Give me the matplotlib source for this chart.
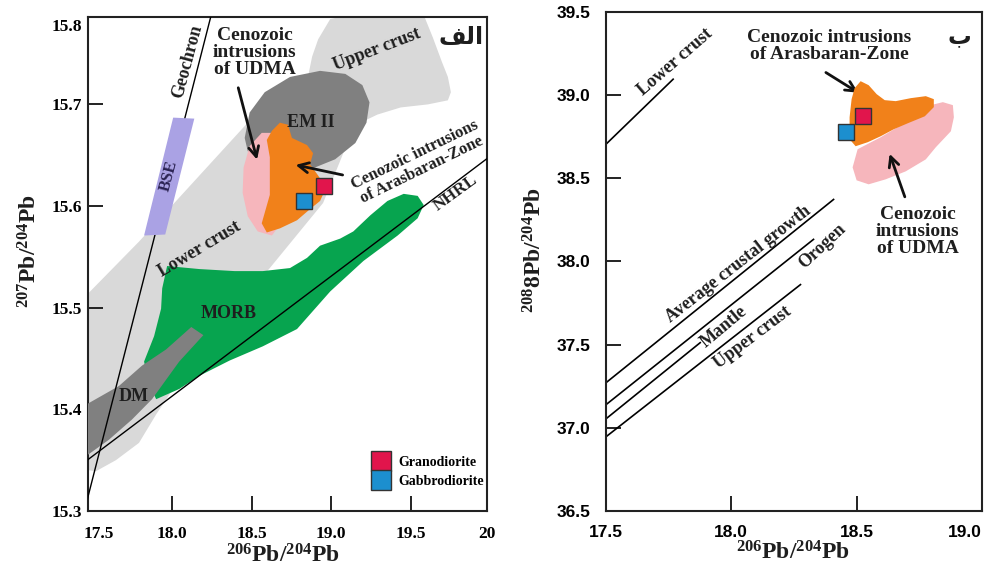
import matplotlib
matplotlib.use("Agg")
import matplotlib.pyplot as plt
from matplotlib.lines import Line2D

plt.rcParams['font.family'] = ['Liberation Serif', 'DejaVu Sans']
plt.rcParams['font.weight'] = 'bold'
plt.rcParams['mathtext.fontset'] = 'custom'
plt.rcParams['mathtext.rm'] = 'Liberation Serif:bold'
plt.rcParams['mathtext.default'] = 'rm'

# ---- panel (a): 206Pb/204Pb vs 207Pb/204Pb fields ----
upper_crust_x = [18.854, 18.880, 18.918, 18.994, 19.120, 19.437, 19.582, 19.639, 19.696,
                 19.734, 19.753, 19.734, 19.608, 19.437, 19.291, 19.184, 18.994]
upper_crust_y = [15.727, 15.747, 15.764, 15.784, 15.788, 15.789, 15.788, 15.766, 15.742,
                 15.727, 15.712, 15.704, 15.700, 15.697, 15.690, 15.682, 15.697]

lower_crust_x = [17.44, 17.791, 18.171, 18.551, 18.804, 19.089, 18.949, 18.614, 18.171,
                 17.899, 17.791, 17.646, 17.519, 17.44]
lower_crust_y = [15.509, 15.565, 15.630, 15.695, 15.712, 15.657, 15.603, 15.539, 15.459,
                 15.395, 15.367, 15.350, 15.339, 15.341]

em2_x = [18.456, 18.487, 18.582, 18.741, 18.930, 19.089, 19.196, 19.241, 19.222, 19.152,
         19.025, 18.867, 18.709, 18.563, 18.475]
em2_y = [15.667, 15.692, 15.712, 15.727, 15.733, 15.730, 15.719, 15.702, 15.682, 15.662,
         15.646, 15.636, 15.635, 15.643, 15.654]

morb_x = [17.968, 18.171, 18.392, 18.570, 18.741, 18.848, 18.930, 19.057, 19.139, 19.247,
          19.354, 19.456, 19.544, 19.582, 19.544, 19.418, 19.203, 18.994, 18.785, 18.570,
          18.361, 18.171, 18.044, 17.899, 17.854, 17.823, 17.886, 17.930, 17.937]
morb_y = [15.541, 15.538, 15.536, 15.536, 15.539, 15.549, 15.561, 15.568, 15.575, 15.591,
          15.605, 15.612, 15.610, 15.601, 15.588, 15.571, 15.546, 15.516, 15.479, 15.462,
          15.448, 15.433, 15.420, 15.410, 15.425, 15.447, 15.472, 15.499, 15.519]

dm_x = [17.44, 17.665, 17.810, 17.962, 18.120, 18.196, 18.044, 17.873, 17.747, 17.601, 17.44]
dm_y = [15.403, 15.423, 15.443, 15.459, 15.481, 15.473, 15.447, 15.410, 15.390, 15.370, 15.352]

udma_a_x = [18.563, 18.646, 18.709, 18.709, 18.627, 18.538, 18.475, 18.443, 18.449, 18.487]
udma_a_y = [15.672, 15.672, 15.648, 15.588, 15.571, 15.575, 15.590, 15.613, 15.638, 15.659]

arasbaran_a_x = [18.627, 18.677, 18.728, 18.753, 18.848, 18.886, 18.867, 18.918, 18.968,
                 18.930, 18.867, 18.785, 18.677, 18.595, 18.563, 18.614, 18.614, 18.595]
arasbaran_a_y = [15.674, 15.682, 15.680, 15.667, 15.660, 15.652, 15.641, 15.630, 15.618,
                 15.605, 15.597, 15.586, 15.578, 15.574, 15.583, 15.611, 15.648, 15.665]

bse_x = [18.006, 18.139, 17.956, 17.823]
bse_y = [15.687, 15.686, 15.572, 15.571]

geochron_x = [17.462, 18.247]
geochron_y = [15.309, 15.789]
nhrl_x = [17.44, 20.0]
nhrl_y = [15.347, 15.649]

granodiorite_a = (18.956, 15.620)
gabbrodiorite_a = (18.829, 15.605)

# ---- panel (b): 206Pb/204Pb vs 208Pb/204Pb ----
lc_b_x, lc_b_y = [17.5, 17.768], [38.705, 39.096]
acg_b_x, acg_b_y = [17.5, 18.408], [37.271, 38.373]
orogen_b_x, orogen_b_y = [17.5, 18.328], [37.139, 38.133]
mantle_b_x, mantle_b_y = [17.5, 17.876], [37.054, 37.512]
uc_b_x, uc_b_y = [17.5, 18.276], [36.946, 37.861]

arasbaran_b_x = [18.516, 18.548, 18.580, 18.612, 18.656, 18.716, 18.776, 18.808, 18.808,
                 18.772, 18.704, 18.648, 18.596, 18.544, 18.496, 18.472, 18.472, 18.480, 18.492]
arasbaran_b_y = [39.084, 39.060, 39.006, 38.970, 38.964, 38.982, 38.994, 38.976, 38.928,
                 38.873, 38.831, 38.795, 38.753, 38.717, 38.693, 38.735, 38.867, 38.976, 39.042]

udma_b_x = [18.504, 18.596, 18.716, 18.796, 18.844, 18.884, 18.888, 18.876, 18.816, 18.776,
            18.696, 18.616, 18.548, 18.500, 18.484]
udma_b_y = [38.675, 38.747, 38.855, 38.940, 38.958, 38.940, 38.867, 38.783, 38.687, 38.614,
            38.542, 38.494, 38.464, 38.488, 38.566]

granodiorite_b = (18.524, 38.873)
gabbrodiorite_b = (18.456, 38.777)

LGRAY = '#d9d9d9'
DGRAY = '#808080'
GREEN = '#07a44f'
PINK = '#f6b6bc'
ORANGE = '#f1811a'
PURPLE = '#aaa2e4'
RED = '#e1154c'
BLUE = '#1c8fcf'
TXT = '#1e1e1e'

fig = plt.figure(figsize=(9.85, 5.66), dpi=100)
ax1 = fig.add_axes([0.0893, 0.0972, 0.4051, 0.8728])
ax2 = fig.add_axes([0.6152, 0.0972, 0.3817, 0.8816])

# fields
ax1.fill(lower_crust_x, lower_crust_y, color=LGRAY, lw=0, zorder=1)
ax1.fill(upper_crust_x, upper_crust_y, color=LGRAY, lw=0, zorder=1)
ax1.fill(morb_x, morb_y, color=GREEN, lw=0, zorder=2)
ax1.fill(dm_x, dm_y, color=DGRAY, lw=0, zorder=3)
ax1.fill(em2_x, em2_y, color=DGRAY, lw=0, zorder=3)
ax1.fill(udma_a_x, udma_a_y, color=PINK, lw=0, zorder=4)
ax1.fill(arasbaran_a_x, arasbaran_a_y, color=ORANGE, lw=0, zorder=5)
ax1.plot(geochron_x, geochron_y, color='k', lw=1.0, zorder=6)
ax1.plot(nhrl_x, nhrl_y, color='k', lw=1.0, zorder=6)
ax1.fill(bse_x, bse_y, color=PURPLE, lw=0, zorder=7)

ax1.plot(*granodiorite_a, marker='s', ms=12, mfc=RED, mec='#333333', mew=1, ls='none', zorder=8)
ax1.plot(*gabbrodiorite_a, marker='s', ms=12, mfc=BLUE, mec='#333333', mew=1, ls='none', zorder=8)

ax1.set_xlim(17.47, 19.98)
ax1.set_ylim(15.3, 15.786)

# labels on panel a
ax1.text(18.095, 15.742, 'Geochron', rotation=75, fontsize=13, color=TXT,
         ha='center', va='center', rotation_mode='anchor', zorder=9)
ax1.text(17.981, 15.630, 'BSE', rotation=75, fontsize=12, color='#2b2352',
         ha='center', va='center', rotation_mode='anchor', zorder=9)
ax1.text(18.171, 15.558, 'Lower crust', rotation=31, fontsize=13, color=TXT,
         ha='center', va='center', rotation_mode='anchor', zorder=9)
ax1.text(19.291, 15.754, 'Upper crust', rotation=21, fontsize=13, color=TXT,
         ha='center', va='center', rotation_mode='anchor', zorder=9)
ax1.text(18.873, 15.682, 'EM II', fontsize=13, color=TXT, ha='center', va='center', zorder=9)
ax1.text(18.354, 15.494, 'MORB', fontsize=13, color=TXT, ha='center', va='center', zorder=9)
ax1.text(17.759, 15.413, 'DM', fontsize=13, color=TXT, ha='center', va='center', zorder=9)
ax1.text(19.785, 15.613, 'NHRL', rotation=36, fontsize=12.5, color=TXT,
         ha='center', va='center', rotation_mode='anchor', zorder=9)
ax1.text(19.816, 15.766, '\ufed2\ufedf\ufe8d', fontsize=17, color=TXT,
         family=['DejaVu Sans'], ha='center', va='center', zorder=9)
ax1.text(18.519, 15.751, 'Cenozoic\nintrusions\nof UDMA', fontsize=14, color=TXT,
         ha='center', va='center', linespacing=1.0, zorder=9)
ax1.annotate('', xy=(18.538, 15.643), xytext=(18.411, 15.719),
             arrowprops=dict(arrowstyle='->', lw=2, color='#111111', mutation_scale=18), zorder=9)
ax1.text(19.551, 15.643, 'Cenozoic intrusions\nof Arasbaran-Zone', rotation=26, fontsize=12,
         color=TXT, ha='center', va='center', rotation_mode='anchor', linespacing=1.0, zorder=9)
ax1.annotate('', xy=(18.759, 15.641), xytext=(19.089, 15.630),
             arrowprops=dict(arrowstyle='->', lw=2, color='#111111', mutation_scale=18), zorder=9)

handles = [Line2D([], [], marker='s', ls='none', ms=14, mfc=RED, mec='#333333', mew=1,
                  label='Granodiorite'),
           Line2D([], [], marker='s', ls='none', ms=14, mfc=BLUE, mec='#333333', mew=1,
                  label='Gabbrodiorite')]
ax1.legend(handles=handles, loc='lower left', bbox_to_anchor=(0.685, 0.035), frameon=False,
           prop={'family': 'Liberation Serif', 'weight': 'bold', 'size': 10},
           handletextpad=0.3, labelspacing=0.45, borderaxespad=0)

# panel b
for lx, ly in [(lc_b_x, lc_b_y), (acg_b_x, acg_b_y), (orogen_b_x, orogen_b_y),
               (mantle_b_x, mantle_b_y), (uc_b_x, uc_b_y)]:
    ax2.plot(lx, ly, color='k', lw=1.2, zorder=2)

ax2.fill(udma_b_x, udma_b_y, color=PINK, lw=0, zorder=3)
ax2.fill(arasbaran_b_x, arasbaran_b_y, color=ORANGE, lw=0, zorder=4)
ax2.plot(*gabbrodiorite_b, marker='s', ms=12, mfc=BLUE, mec='#333333', mew=1, ls='none', zorder=5)
ax2.plot(*granodiorite_b, marker='s', ms=12, mfc=RED, mec='#333333', mew=1, ls='none', zorder=5)

ax2.set_xlim(17.5, 19.0)
ax2.set_ylim(36.5, 39.5)

ax2.text(17.776, 39.199, 'Lower crust', rotation=41, fontsize=13, color=TXT,
         ha='center', va='center', rotation_mode='anchor')
ax2.text(18.028, 37.982, 'Average crustal growth', rotation=38, fontsize=13, color=TXT,
         ha='center', va='center', rotation_mode='anchor')
ax2.text(18.364, 38.090, 'Orogen', rotation=43, fontsize=13, color=TXT,
         ha='center', va='center', rotation_mode='anchor')
ax2.text(17.972, 37.608, 'Mantle', rotation=40, fontsize=13, color=TXT,
         ha='center', va='center', rotation_mode='anchor')
ax2.text(18.084, 37.542, 'Upper crust', rotation=37, fontsize=13, color=TXT,
         ha='center', va='center', rotation_mode='anchor')
ax2.text(18.392, 39.295, 'Cenozoic intrusions\nof Arasbaran-Zone', fontsize=14, color=TXT,
         ha='center', va='center', linespacing=1.0)
ax2.annotate('', xy=(18.516, 39.006), xytext=(18.368, 39.145),
             arrowprops=dict(arrowstyle='->', lw=2, color='#111111', mutation_scale=18))
ax2.text(18.744, 38.181, 'Cenozoic\nintrusions\nof UDMA', fontsize=14, color=TXT,
         ha='center', va='center', linespacing=1.0)
ax2.annotate('', xy=(18.628, 38.663), xytext=(18.696, 38.373),
             arrowprops=dict(arrowstyle='->', lw=2, color='#111111', mutation_scale=18))
ax2.text(18.908, 39.355, '\u0628', fontsize=17, color=TXT, family=['DejaVu Sans'],
         ha='center', va='center')

# axes styling
ax1.set_xticks([17.54, 18.0, 18.5, 19.0, 19.5, 19.98],
               labels=['17.5', '18.0', '18.5', '19.0', '19.5', '20'])
ax1.set_yticks([15.3, 15.4, 15.5, 15.6, 15.7, 15.778],
               labels=['15.3', '15.4', '15.5', '15.6', '15.7', '15.8'])
for t in (ax1.xaxis.get_major_ticks()[0], ax1.xaxis.get_major_ticks()[-1],
          ax1.yaxis.get_major_ticks()[-1]):
    t.tick1line.set_visible(False)

ax2.set_xticks([17.5, 18.0, 18.5, 19.0], labels=['17.5', '18.0', '18.5', '19.0'])
ax2.set_yticks([36.5, 37.0, 37.5, 38.0, 38.5, 39.0, 39.5],
               labels=['36.5', '37.0', '37.5', '38.0', '38.5', '39.0', '39.5'])

for ax in (ax1, ax2):
    ax.tick_params(direction='in', length=10.5, width=1.4, color='#222222')
    for s in ax.spines.values():
        s.set_linewidth(1.5)
        s.set_color('#222222')

ax1.tick_params(axis='y', pad=4, labelsize=12.5)
ax1.tick_params(axis='x', pad=11, labelsize=12.5)
for lab in ax1.get_xticklabels() + ax1.get_yticklabels():
    lab.set_fontweight('bold')
ax2.tick_params(axis='y', pad=11, labelsize=12.5)
ax2.tick_params(axis='x', pad=10, labelsize=12.5)
for lab in ax2.get_xticklabels() + ax2.get_yticklabels():
    lab.set_fontweight('bold')
    lab.set_family('Liberation Sans')
ax2.get_xticklabels()[-1].set_horizontalalignment('right')

ax1.text(-0.145, 0.526, r'$^{207}$Pb/$^{204}$Pb', transform=ax1.transAxes, rotation=90,
         fontsize=17, ha='center', va='center', color=TXT)
ax1.text(0.489, -0.067, r'$^{206}$Pb/$^{204}$Pb', transform=ax1.transAxes,
         fontsize=17, ha='center', va='top', color=TXT)
ax2.text(-0.19, 0.523, r'$^{208}$8Pb/$^{204}$Pb', transform=ax2.transAxes, rotation=90,
         fontsize=17, ha='center', va='center', color=TXT)
ax2.text(0.496, -0.06, r'$^{206}$Pb/$^{204}$Pb', transform=ax2.transAxes,
         fontsize=17, ha='center', va='top', color=TXT)

fig.savefig('out.png', dpi=100)
